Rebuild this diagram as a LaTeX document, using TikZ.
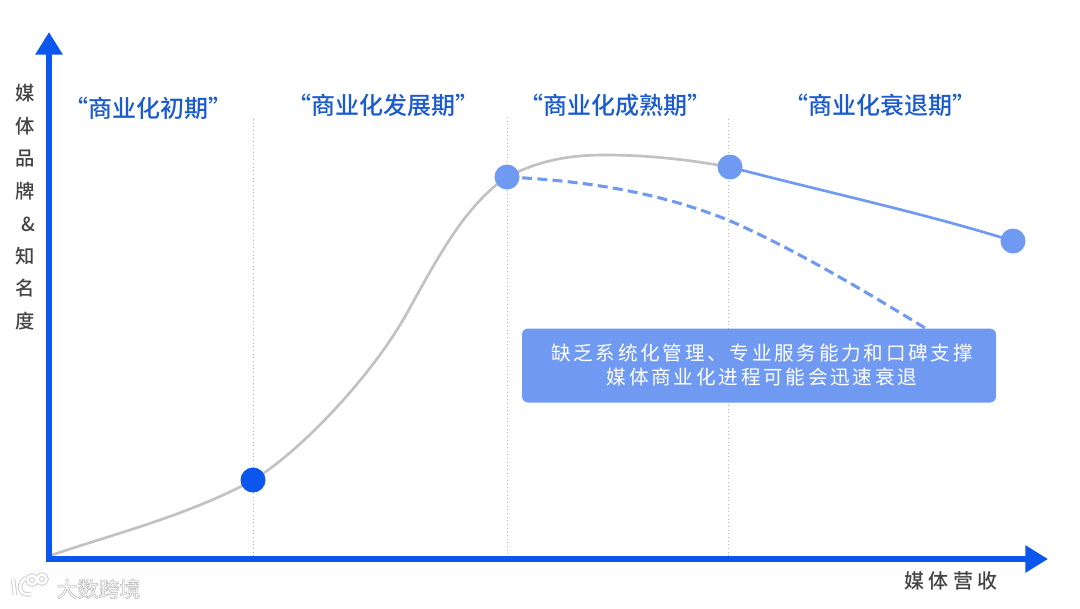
\documentclass[tikz,border=0pt]{standalone}
\usepackage{fontspec}
\setmainfont{Noto Sans CJK SC}
\newfontfamily\headf{Noto Sans CJK SC Medium}
\newfontfamily\capf[LetterSpace=14]{Noto Sans CJK SC}
\newfontfamily\axisf[LetterSpace=22]{Noto Sans CJK SC Medium}
\usetikzlibrary{arrows.meta}
\definecolor{axisblue}{HTML}{0B57EE}
\definecolor{headblue}{HTML}{1A5BD0}
\definecolor{softblue}{HTML}{7099F2}
\definecolor{linegray}{HTML}{C2C2C2}
\definecolor{guidegray}{HTML}{B5B5B5}
\definecolor{textgray}{HTML}{444444}
\tikzset{
  x=0.75pt,y=-0.75pt,
  axisline/.style={draw=axisblue,line width=4.5pt,-{Triangle[length=17pt,width=19.5pt]}},
  guide/.style={draw=guidegray,line width=0.75pt,dotted},
  growth/.style={draw=linegray,line width=2pt},
  declineline/.style={draw=softblue,line width=2pt},
  fastline/.style={draw=softblue,line width=2.3pt,dash pattern=on 7.5pt off 3.9pt},
  dot/.style={circle,inner sep=0pt,minimum size=25*0.75pt},
  phase/.style={text=headblue,font=\headf\fontsize{18pt}{20pt}\selectfont,inner sep=0pt},
  ychar/.style={text=textgray,font=\headf\fontsize{14.5pt}{16pt}\selectfont,inner sep=0pt},
  xlabel/.style={text=textgray,font=\axisf\fontsize{15pt}{17pt}\selectfont,inner sep=0pt},
  callout/.style={fill=softblue,rounded corners=4.5pt,inner sep=0pt,minimum width=474*0.75pt,minimum height=74*0.75pt,
    text=white,align=center,font=\capf\fontsize{14.7pt}{18pt}\selectfont},
  markfront/.style={font=\headf\fontsize{15.7pt}{17pt}\selectfont,inner sep=0pt},
  logoglow/.style={draw=gray!38,line width=3.4pt,fill=none},
  logofront/.style={draw=white,line width=1.9pt,fill=none},
}
\begin{document}
\begin{tikzpicture}
\useasboundingbox (0,0) rectangle (1080,608);
\fill[white] (0,0) rectangle (1080,608);
% guide lines
\coordinate (g1t) at (253,119); \coordinate (g1b) at (253,556);
\coordinate (g2t) at (507,117); \coordinate (g2b) at (507,556);
\coordinate (g3t) at (728,119); \coordinate (g3b) at (728,556);
\draw[guide] (g1t) -- (g1b);
\draw[guide] (g2t) -- (g2b);
\draw[guide] (g3t) -- (g3b);
% dots positions
\coordinate (o) at (49,556);
\node[dot] (d1) at (253,480) {};
\node[dot] (d2) at (507,177) {};
\node[dot] (d3) at (730,167) {};
\node[dot] (d4) at (1013,241) {};
% curves
\draw[growth] (o) .. controls (110,535) and (190,515) .. (d1.center)
  .. controls (300,452) and (372,376) .. (407,313)
  .. controls (437,259) and (465,205) .. (d2.center)
  .. controls (540,160) and (570,155) .. (605,155)
  .. controls (650,155) and (690,160) .. (d3.center);
\draw[declineline] (d3.center) .. controls (825,192) and (920,212) .. (d4.center);
\node[callout] (box) at (759,365.5) {\hspace*{6\dimexpr0.75pt\relax}缺乏系统化管理、专业服务能力和口碑支撑\\\hspace*{6\dimexpr0.75pt\relax}媒体商业化进程可能会迅速衰退};
\coordinate (dashend) at (925,328);
\draw[fastline] (d2.center) .. controls (590,181) and (660,193) .. (728,220)
  .. controls (790,247) and (860,288) .. (dashend);
% axes
\coordinate (yt) at (49,32); \coordinate (xr) at (1048,559);
\coordinate (corner) at (49,559);
\draw[axisline] (46,559) -- (xr);
\draw[axisline] (corner) -- (yt);
% dots
\fill[axisblue] (d1) circle[radius=12.5];
\fill[softblue] (d2) circle[radius=12.5];
\fill[softblue] (d3) circle[radius=12.5];
\fill[softblue] (d4) circle[radius=12.5];
% phases
\node[phase] (p1) at (148,108) {“商业化初期”};
\node[phase] (p2) at (383,105) {“商业化发展期”};
\node[phase] (p3) at (615,105) {“商业化成熟期”};
\node[phase] (p4) at (880,105) {“商业化衰退期”};
% y label
\node[ychar] (y1) at (25,93) {媒};
\node[ychar] (y2) at (25,126) {体};
\node[ychar] (y3) at (25,159) {品};
\node[ychar] (y4) at (25,191) {牌};
\node[ychar] (y5) at (28,224) {\&};
\node[ychar] (y6) at (25,256) {知};
\node[ychar] (y7) at (25,288) {名};
\node[ychar] (y8) at (25,321) {度};
\node[xlabel] (xl) at (951,581) {媒体营收};
% watermark
\foreach \st in {logoglow,logofront}{
  \draw[\st] (13,579) -- (15,595);
  \draw[\st] (26,578) .. controls (17,583) and (18,597) .. (31,594);
  \draw[\st] (32,580) circle[radius=4.5];
  \draw[\st] (42,579) circle[radius=4.5];
}
\node[markfront] (mark) at (98.5,589) {\special{pdf:code 0.96 g 0.72 G 2 Tr 0.35 w}大数跨境\special{pdf:code 0 Tr 1 w 0 g 0 G}};
\end{tikzpicture}
\end{document}
